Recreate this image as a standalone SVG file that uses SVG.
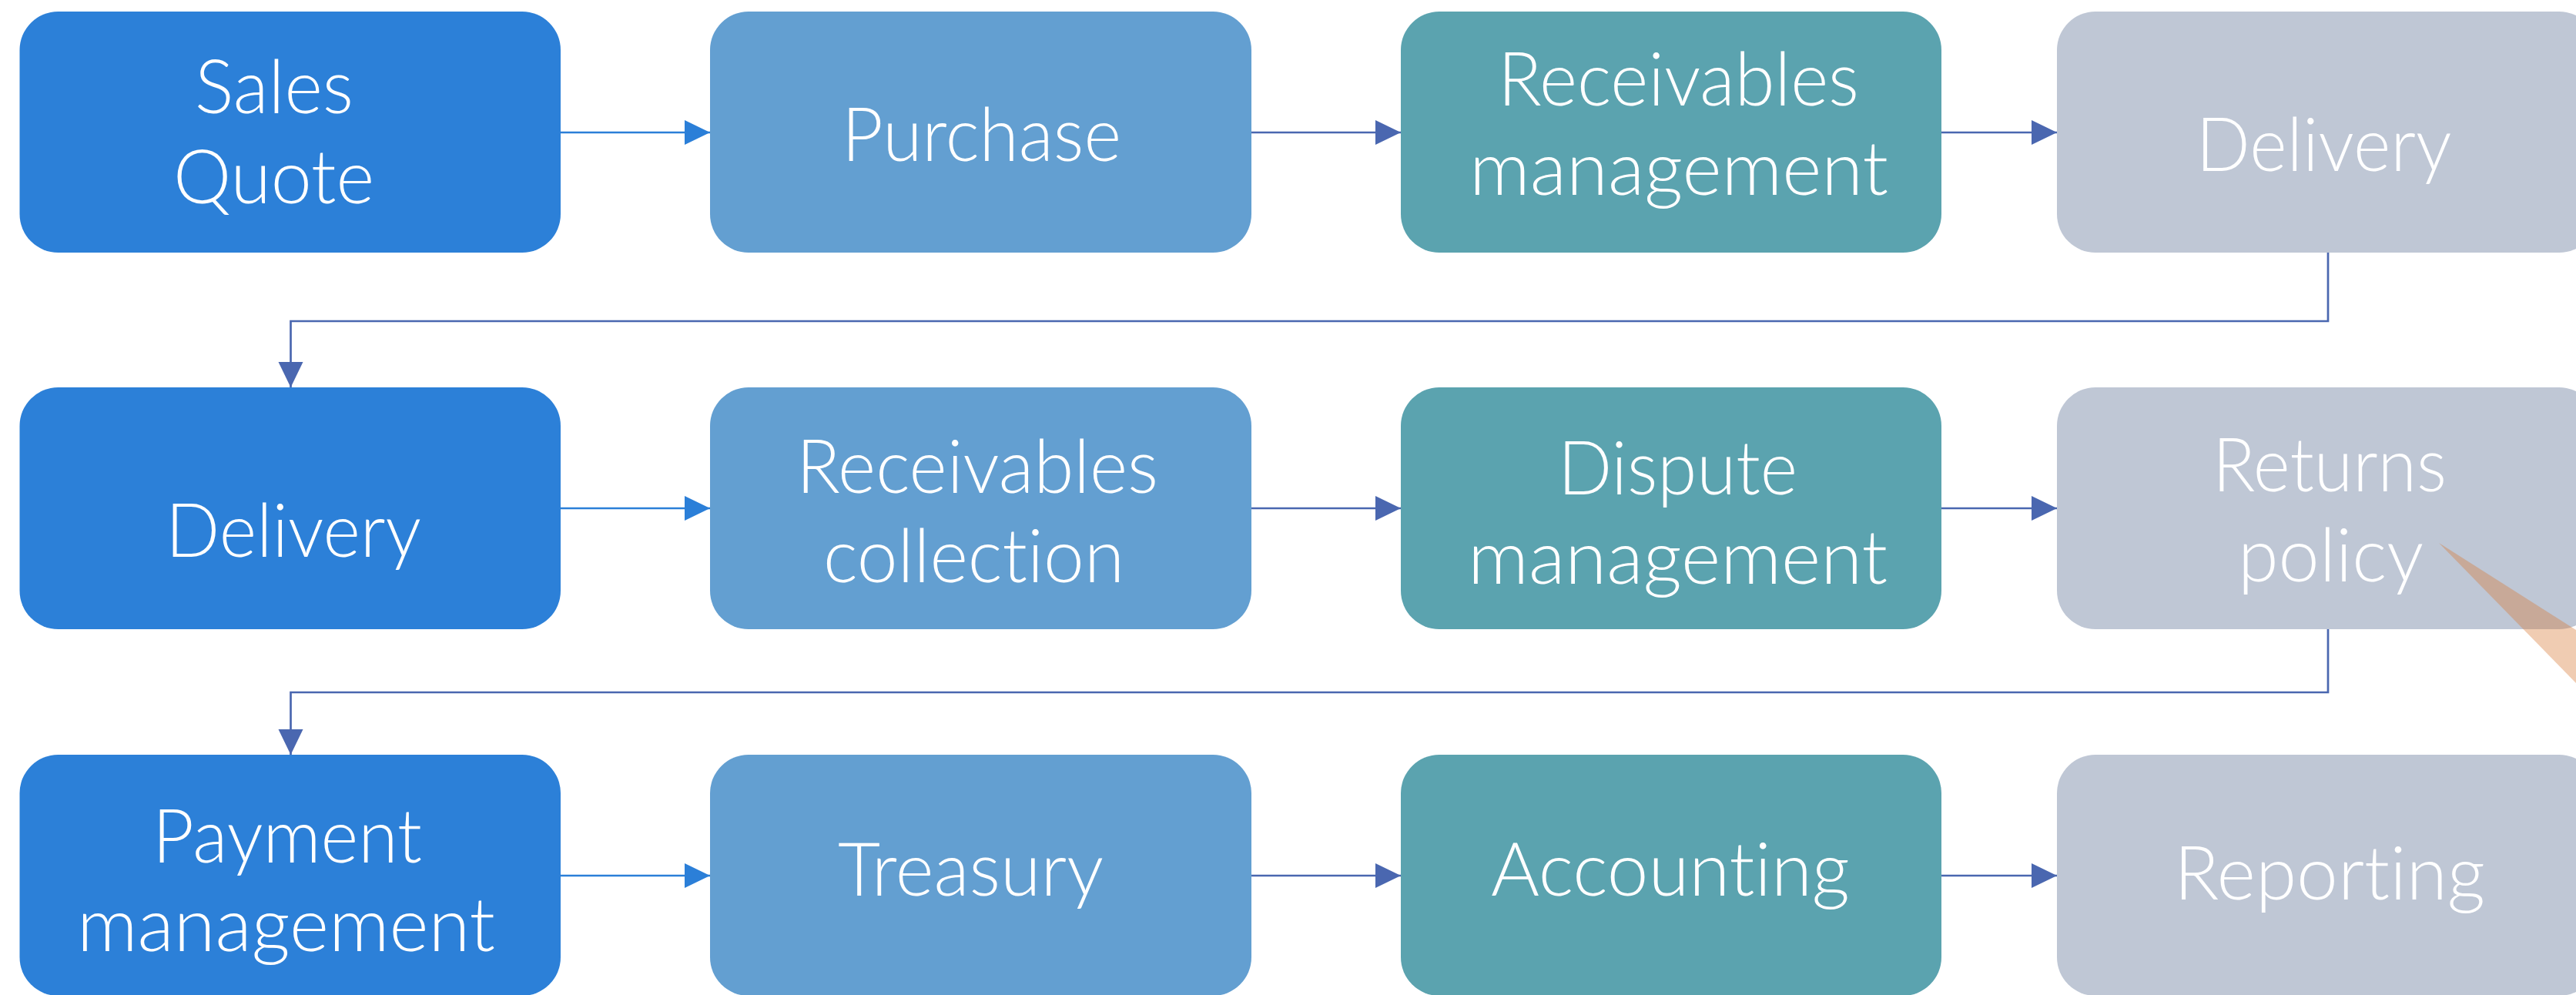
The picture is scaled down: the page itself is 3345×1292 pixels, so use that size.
<svg xmlns="http://www.w3.org/2000/svg" width="3345" height="1292" viewBox="0 0 3345 1292">
<defs>
<style>
.c1{fill:#2C80D8}.c2{fill:#639FD1}.c3{fill:#5BA3AF}.c4{fill:#BFC7D5}
text{font-family:"Lato","Open Sans","Liberation Sans",sans-serif;font-weight:300;font-size:97px;fill:#FFFFFF;text-anchor:middle;font-variant-ligatures:none;font-feature-settings:"liga" 0,"clig" 0}
.lb{stroke:#2B7FD8;stroke-width:2.7;fill:none}
.li{stroke:#4A67B0;stroke-width:2.7;fill:none}
</style>
<marker id="ab" markerUnits="userSpaceOnUse" markerWidth="34" markerHeight="33" refX="33" refY="16" orient="auto"><path d="M0,0 L33,16 L0,32 Z" fill="#2B7FD8"/></marker>
<marker id="ai" markerUnits="userSpaceOnUse" markerWidth="34" markerHeight="33" refX="33" refY="16" orient="auto"><path d="M0,0 L33,16 L0,32 Z" fill="#4A67B0"/></marker>
</defs>
<rect width="3345" height="1292" fill="#FFFFFF"/>
<g id="connectors">
<path class="lb" d="M728,172 H922" marker-end="url(#ab)"/>
<path class="li" d="M1625,172 H1819" marker-end="url(#ai)"/>
<path class="li" d="M2521,172 H2671" marker-end="url(#ai)"/>
<path class="li" d="M3023,328 V417 H377.5 V503" marker-end="url(#ai)"/>
<path class="lb" d="M728,660 H922" marker-end="url(#ab)"/>
<path class="li" d="M1625,660 H1819" marker-end="url(#ai)"/>
<path class="li" d="M2521,660 H2671" marker-end="url(#ai)"/>
<path class="li" d="M3023,817 V899 H377.5 V980" marker-end="url(#ai)"/>
<path class="lb" d="M728,1137 H922" marker-end="url(#ab)"/>
<path class="li" d="M1625,1137 H1819" marker-end="url(#ai)"/>
<path class="li" d="M2521,1137 H2671" marker-end="url(#ai)"/>
</g>
<g id="n-sales-quote"><rect class="c1" x="25.5" y="15" width="702.5" height="313" rx="50"/><text x="356" y="147" textLength="206" lengthAdjust="spacingAndGlyphs">Sales</text><text x="355.5" y="264" textLength="261" lengthAdjust="spacingAndGlyphs">Quote</text></g>
<g id="n-purchase"><rect class="c2" x="922" y="15" width="703" height="313" rx="50"/><text x="1274.5" y="209" textLength="363" lengthAdjust="spacingAndGlyphs">Purchase</text></g>
<g id="n-receivables-management"><rect class="c3" x="1819" y="15" width="702" height="313" rx="50"/><text x="2179.5" y="137" textLength="469" lengthAdjust="spacingAndGlyphs">Receivables</text><text x="2180" y="253" textLength="544" lengthAdjust="spacingAndGlyphs">management</text></g>
<g id="n-delivery-1"><rect class="c4" x="2671" y="15" width="702" height="313" rx="50"/><text x="3017.5" y="222" textLength="332" lengthAdjust="spacingAndGlyphs">Delivery</text></g>
<g id="n-delivery-2"><rect class="c1" x="25.5" y="503" width="702.5" height="314" rx="50"/><text x="381" y="723" textLength="332" lengthAdjust="spacingAndGlyphs">Delivery</text></g>
<g id="n-receivables-collection"><rect class="c2" x="922" y="503" width="703" height="314" rx="50"/><text x="1269" y="640" textLength="470" lengthAdjust="spacingAndGlyphs">Receivables</text><text x="1264.5" y="756" textLength="391" lengthAdjust="spacingAndGlyphs">collection</text></g>
<g id="n-dispute-management"><rect class="c3" x="1819" y="503" width="702" height="314" rx="50"/><text x="2178.5" y="642" textLength="311" lengthAdjust="spacingAndGlyphs">Dispute</text><text x="2178.5" y="758" textLength="545" lengthAdjust="spacingAndGlyphs">management</text></g>
<g id="n-returns-policy"><rect class="c4" x="2671" y="503" width="702" height="314" rx="50"/><text x="3025" y="638" textLength="304" lengthAdjust="spacingAndGlyphs">Returns</text><text x="3026.5" y="755" textLength="241" lengthAdjust="spacingAndGlyphs">policy</text></g>
<g id="n-payment-management"><rect class="c1" x="25.5" y="980" width="702.5" height="313" rx="50"/><text x="373" y="1120" textLength="350" lengthAdjust="spacingAndGlyphs">Payment</text><text x="371.5" y="1235" textLength="543" lengthAdjust="spacingAndGlyphs">management</text></g>
<g id="n-treasury"><rect class="c2" x="922" y="980" width="703" height="313" rx="50"/><text x="1260.5" y="1163" textLength="345" lengthAdjust="spacingAndGlyphs">Treasury</text></g>
<g id="n-accounting"><rect class="c3" x="1819" y="980" width="702" height="313" rx="50"/><text x="2169" y="1163" textLength="466" lengthAdjust="spacingAndGlyphs">Accounting</text></g>
<g id="n-reporting"><rect class="c4" x="2671" y="980" width="702" height="313" rx="50"/><text x="3025" y="1168" textLength="404" lengthAdjust="spacingAndGlyphs">Reporting</text></g>
<polygon points="3167,705 3345,818 3345,887" fill="#D77A34" fill-opacity="0.38"/>
</svg>
